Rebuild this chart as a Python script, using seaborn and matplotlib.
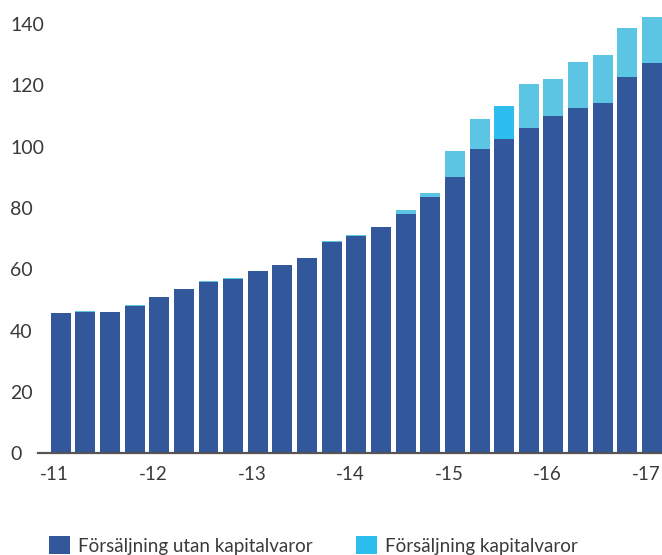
import matplotlib
matplotlib.use("Agg")
import matplotlib.pyplot as plt
import matplotlib.transforms as mtransforms
import seaborn as sns
import pandas as pd
from matplotlib.patches import Patch

quarters = [f"{y}Q{q}" for y in range(2011, 2017) for q in range(1, 5)] + ["2017Q1"]
utan_kapital = [45.9, 46.0, 46.1, 48.1, 50.8, 53.7, 55.8, 56.9, 59.6, 61.5, 63.8, 68.9,
                70.8, 73.8, 78.0, 83.6, 90.1, 99.3, 102.5, 106.1, 110.0, 112.6, 114.3, 122.6, 127.1]
kapitalvaror = [0.0, 0.3, 0.0, 0.3, 0.0, 0.0, 0.3, 0.3, 0.0, 0.0, 0.0, 0.3,
                0.3, 0.0, 1.4, 1.3, 8.5, 9.7, 10.8, 14.3, 12.0, 15.0, 15.6, 16.2, 15.2]
tick_labels = ["-11", "-12", "-13", "-14", "-15", "-16", "-17"]
series_names = ["Försäljning utan kapitalvaror", "Försäljning kapitalvaror"]

DARK = "#33579B"
LIGHT = "#5DC5E4"
BRIGHT = "#2DBEF0"
TEXT = "#3a3a3a"

df = pd.DataFrame({"kvartal": quarters, "utan": utan_kapital, "kap": kapitalvaror})
df["total"] = df["utan"] + df["kap"]
light_colors = [BRIGHT if q == "2015Q3" else LIGHT for q in quarters]

sns.set_style("white")
plt.rcParams["font.family"] = ["Lato", "DejaVu Sans"]

fig = plt.figure(figsize=(6.62, 5.55), dpi=100)
ax = fig.add_axes([38 / 662, (555 - 453.3) / 555, 1 - 38 / 662, 453.3 / 555])

sns.barplot(data=df, x="kvartal", y="total", hue="kvartal", palette=light_colors,
            legend=False, width=0.81, saturation=1, ax=ax, order=quarters, linewidth=0)
sns.barplot(data=df, x="kvartal", y="utan", color=DARK, width=0.81, saturation=1,
            ax=ax, order=quarters, linewidth=0)

ax.set_xlim(-0.92, 24.405)
ax.set_ylim(0, 147.8)
ax.set_xlabel("")
ax.set_ylabel("")
ax.set_xticks(range(0, 25, 4))
ax.set_xticklabels(tick_labels)
ax.set_yticks(range(0, 141, 20))
ax.set_yticklabels([str(v) for v in range(0, 141, 20)])
ax.tick_params(axis="x", length=0, pad=9, labelsize=13.5, labelcolor=TEXT)
ax.tick_params(axis="y", length=0, pad=20, labelsize=14, labelcolor=TEXT)
for lbl in ax.get_yticklabels():
    lbl.set_horizontalalignment("left")
shift = mtransforms.ScaledTranslation(-6 / 100, 0, fig.dpi_scale_trans)
for lbl in ax.get_xticklabels():
    lbl.set_transform(lbl.get_transform() + shift)

for s in ["top", "right", "left"]:
    ax.spines[s].set_visible(False)
ax.spines["bottom"].set_color("#555555")
ax.spines["bottom"].set_linewidth(1.6)
ax.grid(False)

handles = [Patch(facecolor=DARK, edgecolor="none"), Patch(facecolor=BRIGHT, edgecolor="none")]
fig.legend(handles, series_names, loc="lower left", bbox_to_anchor=(50 / 662 - 0.027, -0.030),
           ncol=2, frameon=False, handlelength=1.1, handleheight=1.1, handletextpad=0.42,
           columnspacing=2.35, prop={"size": 13.5}, labelcolor=TEXT)

fig.savefig("out.png", dpi=100)
